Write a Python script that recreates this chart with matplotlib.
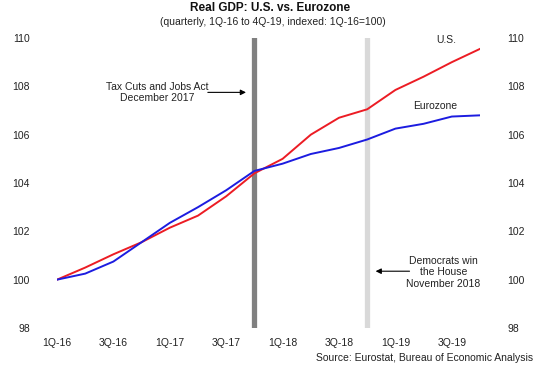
import numpy as np
import matplotlib
matplotlib.use('Agg')
import matplotlib.pyplot as plt

plt.rcParams['font.family'] = ['Liberation Sans', 'DejaVu Sans']

# Data (quarterly real GDP, indexed 1Q-16 = 100)
quarters = ['1Q-16', '2Q-16', '3Q-16', '4Q-16', '1Q-17', '2Q-17', '3Q-17', '4Q-17',
            '1Q-18', '2Q-18', '3Q-18', '4Q-18', '1Q-19', '2Q-19', '3Q-19', '4Q-19']
us_gdp = [100.0, 100.5, 101.05, 101.55, 102.15, 102.65, 103.45, 104.4,
          105.0, 106.0, 106.7, 107.05, 107.85, 108.4, 109.0, 109.55]
ez_gdp = [100.0, 100.25, 100.75, 101.55, 102.35, 103.0, 103.7, 104.5,
          104.8, 105.2, 105.45, 105.8, 106.25, 106.45, 106.75, 106.8]
y_ticks = [98, 100, 102, 104, 106, 108, 110]
tax_cut_q = '4Q-17'
election_q = '4Q-18'

x = np.arange(len(quarters))

fig = plt.figure(figsize=(5.46, 3.70), dpi=100)
ax = fig.add_axes([57 / 546, 42 / 370, 423 / 546, 290 / 370])

# event markers
ax.axvline(quarters.index(tax_cut_q), color='#808080', linewidth=3.8, zorder=1)
ax.axvline(quarters.index(election_q), color='#d9d9d9', linewidth=3.8, zorder=1)

ax.plot(x, us_gdp, color='#ec1c24', linewidth=1.4, zorder=3)
ax.plot(x, ez_gdp, color='#1c1ce0', linewidth=1.4, zorder=3)

ax.set_xlim(0, len(quarters) - 1)
ax.set_ylim(98, 110)
ax.set_yticks(y_ticks)
ax.set_yticklabels([str(v) for v in y_ticks])
ax.set_xticks(x[::2])
ax.set_xticklabels(quarters[::2])
ax.tick_params(axis='y', left=False, right=False, labelleft=True, labelright=True,
               labelsize=7.5, pad=16, labelcolor='#222222')
ax.tick_params(axis='x', bottom=False, labelsize=7.5, pad=3.5, labelcolor='#222222')
for s in ax.spines.values():
    s.set_visible(False)

# series labels
ax.text(13.8, 109.9, 'U.S.', fontsize=7.5, ha='center', va='center', color='#222222')
ax.text(13.4, 107.2, 'Eurozone', fontsize=7.5, ha='center', va='center', color='#222222')

# annotations
ax.annotate('', xy=(6.8, 107.75), xytext=(5.25, 107.75),
            arrowprops=dict(arrowstyle='-|>', color='black', lw=0.8, mutation_scale=8))
ax.text(3.55, 107.75, 'Tax Cuts and Jobs Act\nDecember 2017', fontsize=7.5,
        ha='center', va='center', color='#222222', linespacing=1.2)

ax.annotate('', xy=(11.2, 100.35), xytext=(12.6, 100.35),
            arrowprops=dict(arrowstyle='-|>', color='black', lw=0.8, mutation_scale=8))
ax.text(13.7, 100.3, 'Democrats win\nthe House\nNovember 2018', fontsize=7.5,
        ha='center', va='center', color='#222222', linespacing=1.15)

fig.text(0.495, 1 - 8 / 370, 'Real GDP: U.S. vs. Eurozone', fontsize=8.5,
         fontweight='bold', ha='center', va='center', color='#111111')
fig.text(0.5, 1 - 22 / 370, '(quarterly, 1Q-16 to 4Q-19, indexed: 1Q-16=100)',
         fontsize=7.5, ha='center', va='center', color='#222222')
fig.text(533 / 546, 1 - 358 / 370, 'Source: Eurostat, Bureau of Economic Analysis',
         fontsize=7.5, ha='right', va='center', color='#222222')

fig.savefig('out.png', dpi=100)
